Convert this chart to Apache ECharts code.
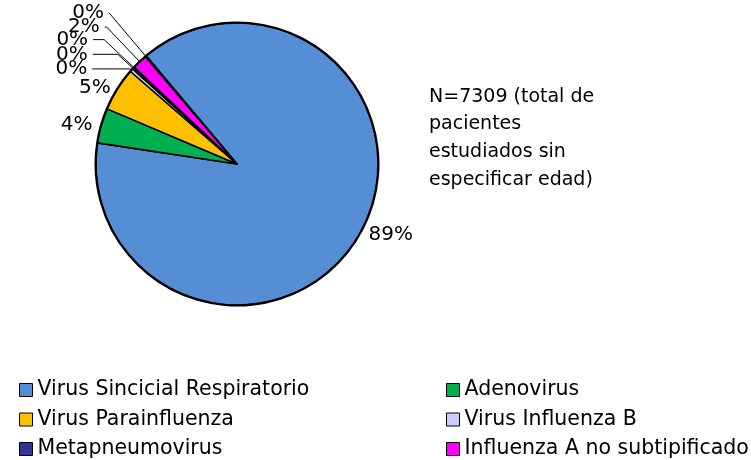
<!DOCTYPE html>
<html>
<head>
<meta charset="utf-8">
<script src="https://cdn.jsdelivr.net/npm/echarts@6/dist/echarts.min.js"></script>
<style>
  html, body { margin: 0; padding: 0; background: #fff; }
  #chart { width: 751px; height: 460px; }
</style>
</head>
<body>
<div id="chart"></div>
<script>
// slice order, clockwise from the start angle
const categories = [
  "Virus Sincicial Respiratorio",
  "Adenovirus",
  "Virus Parainfluenza",
  "Virus Influenza B",
  "Metapneumovirus",
  "Otros",
  "Influenza A no subtipificado",
  "Otros 2"
];
const patients = [6469, 292, 365, 28, 10, 10, 125, 10];
const colors = ["#558ed5", "#00b050", "#ffc000", "#ccccff", "#333399", "#993366", "#ff00ff", "#00b0f0"];
// leader line lengths per slice [radial, horizontal]
const leaders = [[4, 0], [4, 0], [2, 0], [2, 38], [21, 25], [41, 11], [48, 2], [57, 0]];
// legend columns (two columns, row by row)
const legendLeft = ["Virus Sincicial Respiratorio", "Virus Parainfluenza", "Metapneumovirus"];
const legendRight = ["Adenovirus", "Virus Influenza B", "Influenza A no subtipificado"];
const note = "N=7309 (total de\npacientes\nestudiados sin\nespecificar edad)";

const FONT = "DejaVu Sans";
const chart = echarts.init(document.getElementById("chart"));

const data = categories.map((name, i) => ({
  name: name,
  value: patients[i],
  itemStyle: { color: colors[i] },
  labelLine: {
    show: i > 2,
    length: leaders[i][0],
    length2: leaders[i][1]
  }
}));

const legendBase = {
  orient: "vertical",
  icon: "rect",
  itemWidth: 13,
  itemHeight: 13,
  itemGap: 8.5,
  top: 379.5,
  height: 81,
  padding: 0,
  textStyle: { fontFamily: FONT, fontSize: 20.5, color: "#000", lineHeight: 21 },
  itemStyle: { borderColor: "#000", borderWidth: 1 }
};

const option = {
  animation: false,
  title: {
    text: note,
    left: 424,
    top: 78,
    textStyle: { fontFamily: FONT, fontSize: 19, fontWeight: "normal", color: "#000", lineHeight: 27.7 }
  },
  legend: [
    Object.assign({}, legendBase, { left: 19, data: legendLeft }),
    Object.assign({}, legendBase, { left: 446, data: legendRight })
  ],
  series: [
    {
      type: "pie",
      center: [237, 164],
      radius: 141,
      startAngle: 130,
      clockwise: true,
      avoidLabelOverlap: false,
      labelLayout: { hideOverlap: false },
      itemStyle: { borderColor: "#000", borderWidth: 1.6 },
      label: {
        show: true,
        position: "outside",
        fontFamily: FONT,
        fontSize: 20,
        color: "#000",
        formatter: (p) => Math.round(p.percent) + "%"
      },
      labelLine: { lineStyle: { color: "#000", width: 1 } },
      emphasis: { disabled: true },
      data: data
    },
    {
      // thicker outer rim
      type: "pie",
      center: [237, 164],
      radius: [140.5, 142.5],
      startAngle: 130,
      silent: true,
      label: { show: false },
      labelLine: { show: false },
      itemStyle: { color: "#000", borderWidth: 0 },
      emphasis: { disabled: true },
      data: categories.map((name, i) => ({ name: name, value: patients[i] }))
    }
  ]
};

chart.setOption(option);
window.addEventListener("resize", () => chart.resize());
</script>
</body>
</html>
